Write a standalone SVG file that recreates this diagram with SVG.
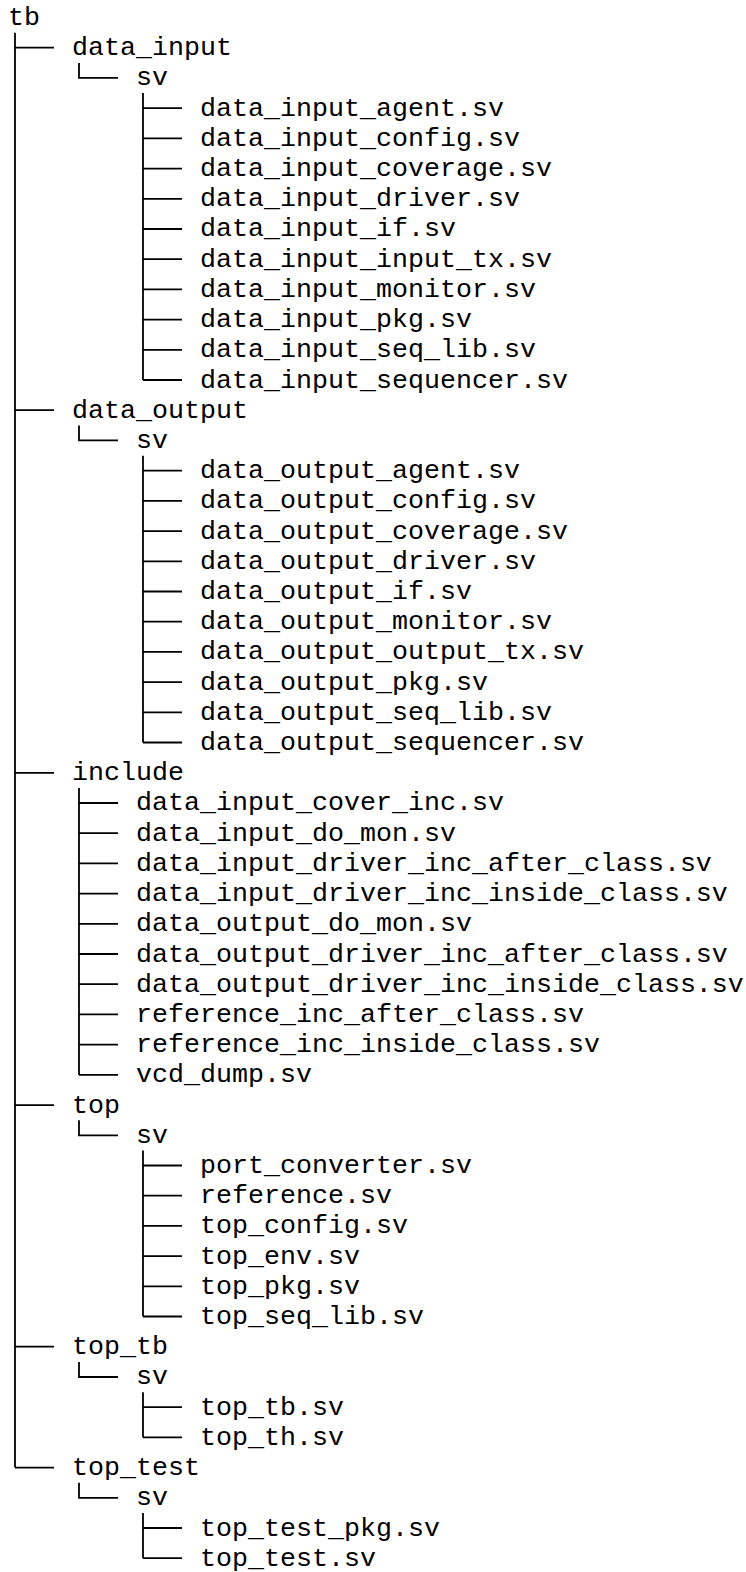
<svg xmlns="http://www.w3.org/2000/svg" width="746" height="1572" viewBox="0 0 746 1572">
<style>
text{font-family:"Liberation Mono","Courier New",monospace;font-size:26.67px;fill:#000}
.c path{fill:none;stroke:#000;stroke-width:1.8}
</style>
<rect width="746" height="1572" fill="#fff"/>
<g class="c" id="connectors">
<path d="M15,32.7V1467.6M15,47.7H54M15,410.2H54M15,772.8H54M15,1105.1H54M15,1346.7H54M15,1467.6H54"/>
<path d="M79,62.9V77.9H118"/>
<path d="M143,93.1V380M143,108.1H182M143,138.3H182M143,168.6H182M143,198.8H182M143,229H182M143,259.2H182M143,289.4H182M143,319.6H182M143,349.8H182M143,380H182"/>
<path d="M79,425.4V440.4H118"/>
<path d="M143,455.7V742.5M143,470.7H182M143,500.9H182M143,531.1H182M143,561.3H182M143,591.5H182M143,621.7H182M143,651.9H182M143,682.1H182M143,712.3H182M143,742.5H182"/>
<path d="M79,788V1074.9M79,803H118M79,833.2H118M79,863.4H118M79,893.6H118M79,923.8H118M79,954H118M79,984.2H118M79,1014.4H118M79,1044.6H118M79,1074.9H118"/>
<path d="M79,1120.3V1135.3H118"/>
<path d="M143,1150.5V1316.5M143,1165.5H182M143,1195.7H182M143,1225.9H182M143,1256.1H182M143,1286.3H182M143,1316.5H182"/>
<path d="M79,1362V1377H118"/>
<path d="M143,1392.2V1437.4M143,1407.2H182M143,1437.4H182"/>
<path d="M79,1482.8V1497.8H118"/>
<path d="M143,1513V1558.2M143,1528H182M143,1558.2H182"/>
</g>
<g id="n_tb"><text x="8" y="25">tb</text></g>
<g id="n_data_input"><text x="72" y="55.21">data_input</text></g>
<g id="n_data_input_sv"><text x="136" y="85.42">sv</text></g>
<g id="n_di_agent"><text x="200" y="115.63">data_input_agent.sv</text></g>
<g id="n_di_config"><text x="200" y="145.84">data_input_config.sv</text></g>
<g id="n_di_coverage"><text x="200" y="176.05">data_input_coverage.sv</text></g>
<g id="n_di_driver"><text x="200" y="206.26">data_input_driver.sv</text></g>
<g id="n_di_if"><text x="200" y="236.47">data_input_if.sv</text></g>
<g id="n_di_input_tx"><text x="200" y="266.68">data_input_input_tx.sv</text></g>
<g id="n_di_monitor"><text x="200" y="296.89">data_input_monitor.sv</text></g>
<g id="n_di_pkg"><text x="200" y="327.1">data_input_pkg.sv</text></g>
<g id="n_di_seq_lib"><text x="200" y="357.31">data_input_seq_lib.sv</text></g>
<g id="n_di_sequencer"><text x="200" y="387.52">data_input_sequencer.sv</text></g>
<g id="n_data_output"><text x="72" y="417.73">data_output</text></g>
<g id="n_data_output_sv"><text x="136" y="447.94">sv</text></g>
<g id="n_do_agent"><text x="200" y="478.15">data_output_agent.sv</text></g>
<g id="n_do_config"><text x="200" y="508.36">data_output_config.sv</text></g>
<g id="n_do_coverage"><text x="200" y="538.57">data_output_coverage.sv</text></g>
<g id="n_do_driver"><text x="200" y="568.78">data_output_driver.sv</text></g>
<g id="n_do_if"><text x="200" y="598.99">data_output_if.sv</text></g>
<g id="n_do_monitor"><text x="200" y="629.2">data_output_monitor.sv</text></g>
<g id="n_do_output_tx"><text x="200" y="659.41">data_output_output_tx.sv</text></g>
<g id="n_do_pkg"><text x="200" y="689.62">data_output_pkg.sv</text></g>
<g id="n_do_seq_lib"><text x="200" y="719.83">data_output_seq_lib.sv</text></g>
<g id="n_do_sequencer"><text x="200" y="750.04">data_output_sequencer.sv</text></g>
<g id="n_include"><text x="72" y="780.25">include</text></g>
<g id="n_inc1"><text x="136" y="810.46">data_input_cover_inc.sv</text></g>
<g id="n_inc2"><text x="136" y="840.67">data_input_do_mon.sv</text></g>
<g id="n_inc3"><text x="136" y="870.88">data_input_driver_inc_after_class.sv</text></g>
<g id="n_inc4"><text x="136" y="901.09">data_input_driver_inc_inside_class.sv</text></g>
<g id="n_inc5"><text x="136" y="931.3">data_output_do_mon.sv</text></g>
<g id="n_inc6"><text x="136" y="961.51">data_output_driver_inc_after_class.sv</text></g>
<g id="n_inc7"><text x="136" y="991.72">data_output_driver_inc_inside_class.sv</text></g>
<g id="n_inc8"><text x="136" y="1021.93">reference_inc_after_class.sv</text></g>
<g id="n_inc9"><text x="136" y="1052.14">reference_inc_inside_class.sv</text></g>
<g id="n_inc10"><text x="136" y="1082.35">vcd_dump.sv</text></g>
<g id="n_top"><text x="72" y="1112.56">top</text></g>
<g id="n_top_sv"><text x="136" y="1142.77">sv</text></g>
<g id="n_top1"><text x="200" y="1172.98">port_converter.sv</text></g>
<g id="n_top2"><text x="200" y="1203.19">reference.sv</text></g>
<g id="n_top3"><text x="200" y="1233.4">top_config.sv</text></g>
<g id="n_top4"><text x="200" y="1263.61">top_env.sv</text></g>
<g id="n_top5"><text x="200" y="1293.82">top_pkg.sv</text></g>
<g id="n_top6"><text x="200" y="1324.03">top_seq_lib.sv</text></g>
<g id="n_top_tb"><text x="72" y="1354.24">top_tb</text></g>
<g id="n_top_tb_sv"><text x="136" y="1384.45">sv</text></g>
<g id="n_tb1"><text x="200" y="1414.66">top_tb.sv</text></g>
<g id="n_tb2"><text x="200" y="1444.87">top_th.sv</text></g>
<g id="n_top_test"><text x="72" y="1475.08">top_test</text></g>
<g id="n_top_test_sv"><text x="136" y="1505.29">sv</text></g>
<g id="n_test1"><text x="200" y="1535.5">top_test_pkg.sv</text></g>
<g id="n_test2"><text x="200" y="1565.71">top_test.sv</text></g>
</svg>
